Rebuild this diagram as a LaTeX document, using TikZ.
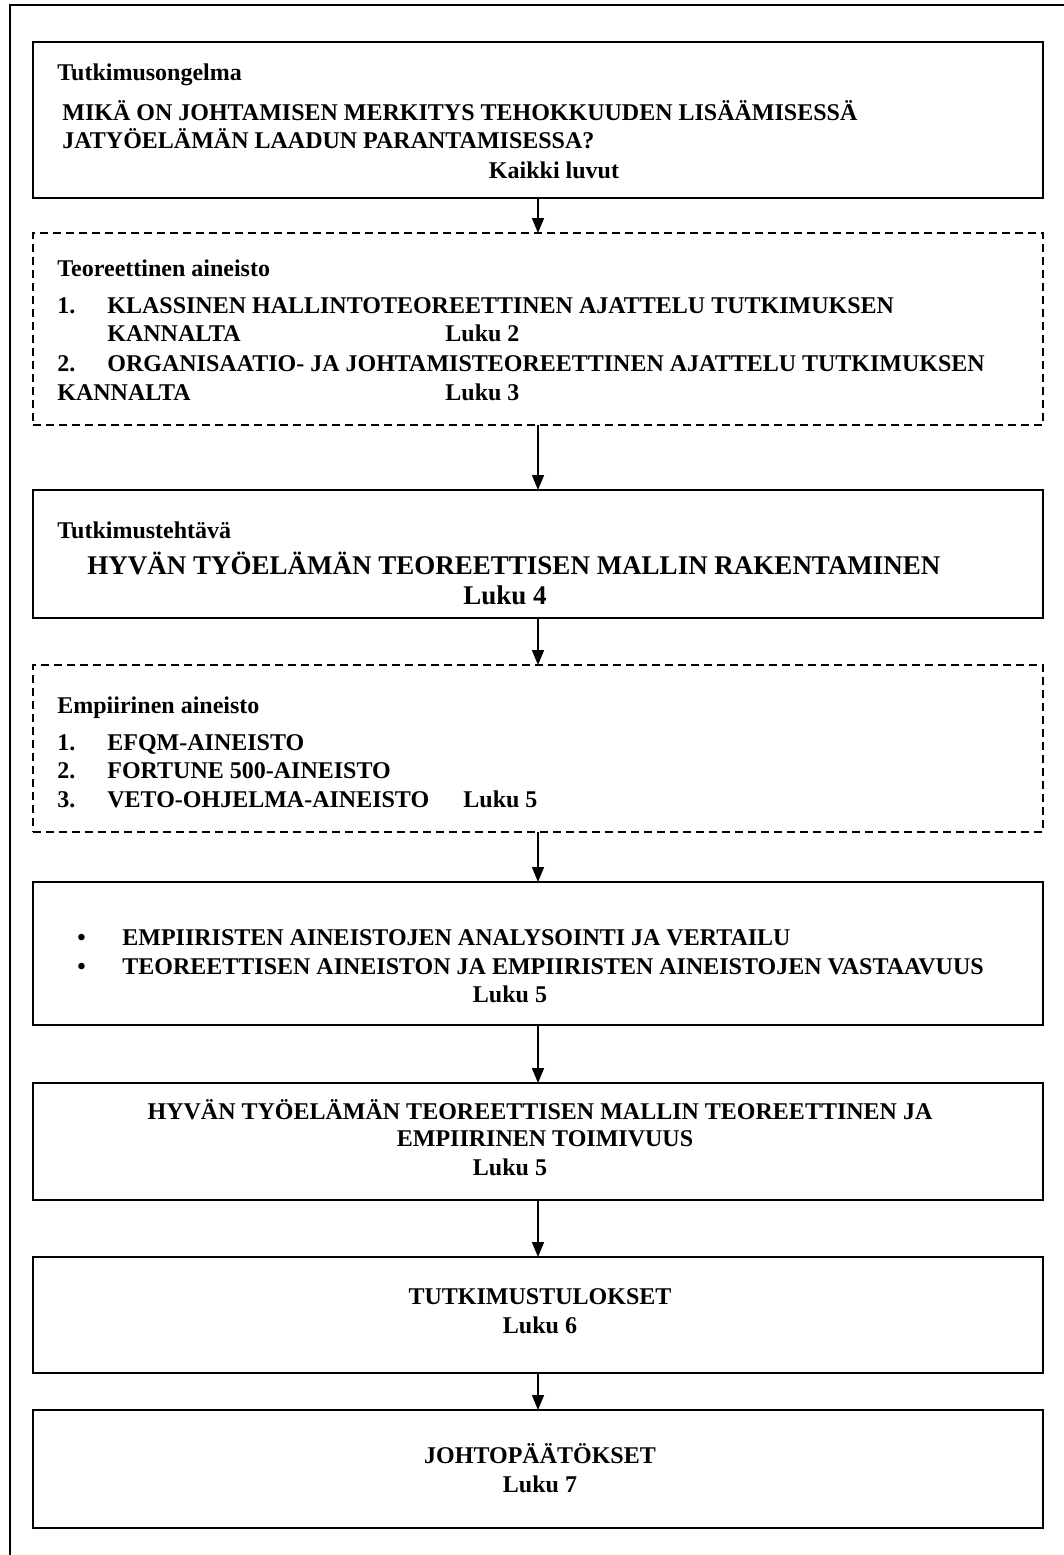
\documentclass[tikz,border=0pt]{standalone}
\usepackage{fontspec}
\setmainfont{Liberation Serif}
\usetikzlibrary{arrows.meta, positioning}

\begin{document}
\begin{tikzpicture}[
    x=0.5pt, y=-0.5pt,
    box/.style={draw, line width=1.3pt, minimum width=505pt, inner sep=0pt, outer sep=0pt},
    dbox/.style={draw, line width=0.7pt, dash pattern=on 4pt off 2.5pt, minimum width=505pt,
                 inner sep=0pt, outer sep=0pt},
    txt/.style={anchor=base west, inner sep=0pt, font=\fontsize{12pt}{14pt}\selectfont\bfseries},
    ctxt/.style={anchor=base, inner sep=0pt, font=\fontsize{12pt}{14pt}\selectfont\bfseries},
    big/.style={font=\fontsize{13.5pt}{16pt}\selectfont\bfseries},
    arr/.style={-{Triangle[length=7.5pt, width=6pt]}, line width=0.8pt},
    frame/.style={line width=1pt},
  ]
    \useasboundingbox (0,0) rectangle (1064,1555);
    \draw[frame] (1064,5) -- (10,5) -- (10,1555);

    % boxes
    \node[box,  minimum height=78pt]   (prob)   at (538,120)    {};
    \node[dbox, minimum height=96pt]   (theory) at (538,329)    {};
    \node[box,  minimum height=64pt]   (task)   at (538,554)    {};
    \node[dbox, minimum height=83.5pt] (empir)  at (538,748.5)  {};
    \node[box,  minimum height=71.5pt] (anal)   at (538,953.5)  {};
    \node[box,  minimum height=58.5pt] (valid)  at (538,1141.5) {};
    \node[box,  minimum height=58pt]   (res)    at (538,1315)   {};
    \node[box,  minimum height=59pt]   (concl)  at (538,1469)   {};

    % Tutkimusongelma
    \node[txt]  (probh)  at (57,80)  {Tutkimusongelma};
    \node[txt]  (probl1) at (62,120) {MIKÄ ON JOHTAMISEN MERKITYS TEHOKKUUDEN LISÄÄMISESSÄ};
    \node[txt]  (probl2) at (62,148) {JATYÖELÄMÄN LAADUN PARANTAMISESSA?};
    \node[ctxt] (probch) at (554,178) {Kaikki luvut};

    % Teoreettinen aineisto
    \node[txt] (theoh)  at (57,276)  {Teoreettinen aineisto};
    \node[txt] (theon1) at (57,313)  {1.};
    \node[txt] (theo1)  at (107,313) {KLASSINEN HALLINTOTEOREETTINEN AJATTELU TUTKIMUKSEN};
    \node[txt] (theo1b) at (107,341) {KANNALTA};
    \node[txt] (theoc1) at (445,341) {Luku 2};
    \node[txt] (theon2) at (57,371)  {2.};
    \node[txt] (theo2)  at (107,371) {ORGANISAATIO- JA JOHTAMISTEOREETTINEN AJATTELU TUTKIMUKSEN};
    \node[txt] (theo2b) at (57,400)  {KANNALTA};
    \node[txt] (theoc2) at (445,400) {Luku 3};

    % Tutkimustehtava
    \node[txt]       (taskh)  at (57,538)  {Tutkimustehtävä};
    \node[ctxt, big] (taskl)  at (514,574) {HYVÄN TYÖELÄMÄN TEOREETTISEN MALLIN RAKENTAMINEN};
    \node[ctxt, big] (taskch) at (505,604) {Luku 4};

    % Empiirinen aineisto
    \node[txt] (empih)  at (57,713)  {Empiirinen aineisto};
    \node[txt] (empin1) at (57,750)  {1.};
    \node[txt] (empi1)  at (107,750) {EFQM-AINEISTO};
    \node[txt] (empin2) at (57,778)  {2.};
    \node[txt] (empi2)  at (107,778) {FORTUNE 500-AINEISTO};
    \node[txt] (empin3) at (57,807)  {3.};
    \node[txt] (empi3)  at (107,807) {VETO-OHJELMA-AINEISTO};
    \node[txt] (empich) at (463,807) {Luku 5};

    % analysointi
    \node[txt]  (analb1) at (77,945)   {•};
    \node[txt]  (anal1)  at (122,945)  {EMPIIRISTEN AINEISTOJEN ANALYSOINTI JA VERTAILU};
    \node[txt]  (analb2) at (77,974)   {•};
    \node[txt]  (anal2)  at (122,974)  {TEOREETTISEN AINEISTON JA EMPIIRISTEN AINEISTOJEN VASTAAVUUS};
    \node[ctxt] (analch) at (510,1002) {Luku 5};

    % toimivuus
    \node[ctxt] (valid1)  at (540,1119) {HYVÄN TYÖELÄMÄN TEOREETTISEN MALLIN TEOREETTINEN JA};
    \node[ctxt] (valid2)  at (545,1146) {EMPIIRINEN TOIMIVUUS};
    \node[ctxt] (validch) at (510,1175) {Luku 5};

    % tulokset ja johtopaatokset
    \node[ctxt] (res1)    at (540,1304) {TUTKIMUSTULOKSET};
    \node[ctxt] (resch)   at (540,1333) {Luku 6};
    \node[ctxt] (concl1)  at (540,1463) {JOHTOPÄÄTÖKSET};
    \node[ctxt] (conclch) at (540,1492) {Luku 7};

    \draw[arr] (prob)   -- (theory);
    \draw[arr] (theory) -- (task);
    \draw[arr] (task)   -- (empir);
    \draw[arr] (empir)  -- (anal);
    \draw[arr] (anal)   -- (valid);
    \draw[arr] (valid)  -- (res);
    \draw[arr] (res)    -- (concl);
\end{tikzpicture}
\end{document}
